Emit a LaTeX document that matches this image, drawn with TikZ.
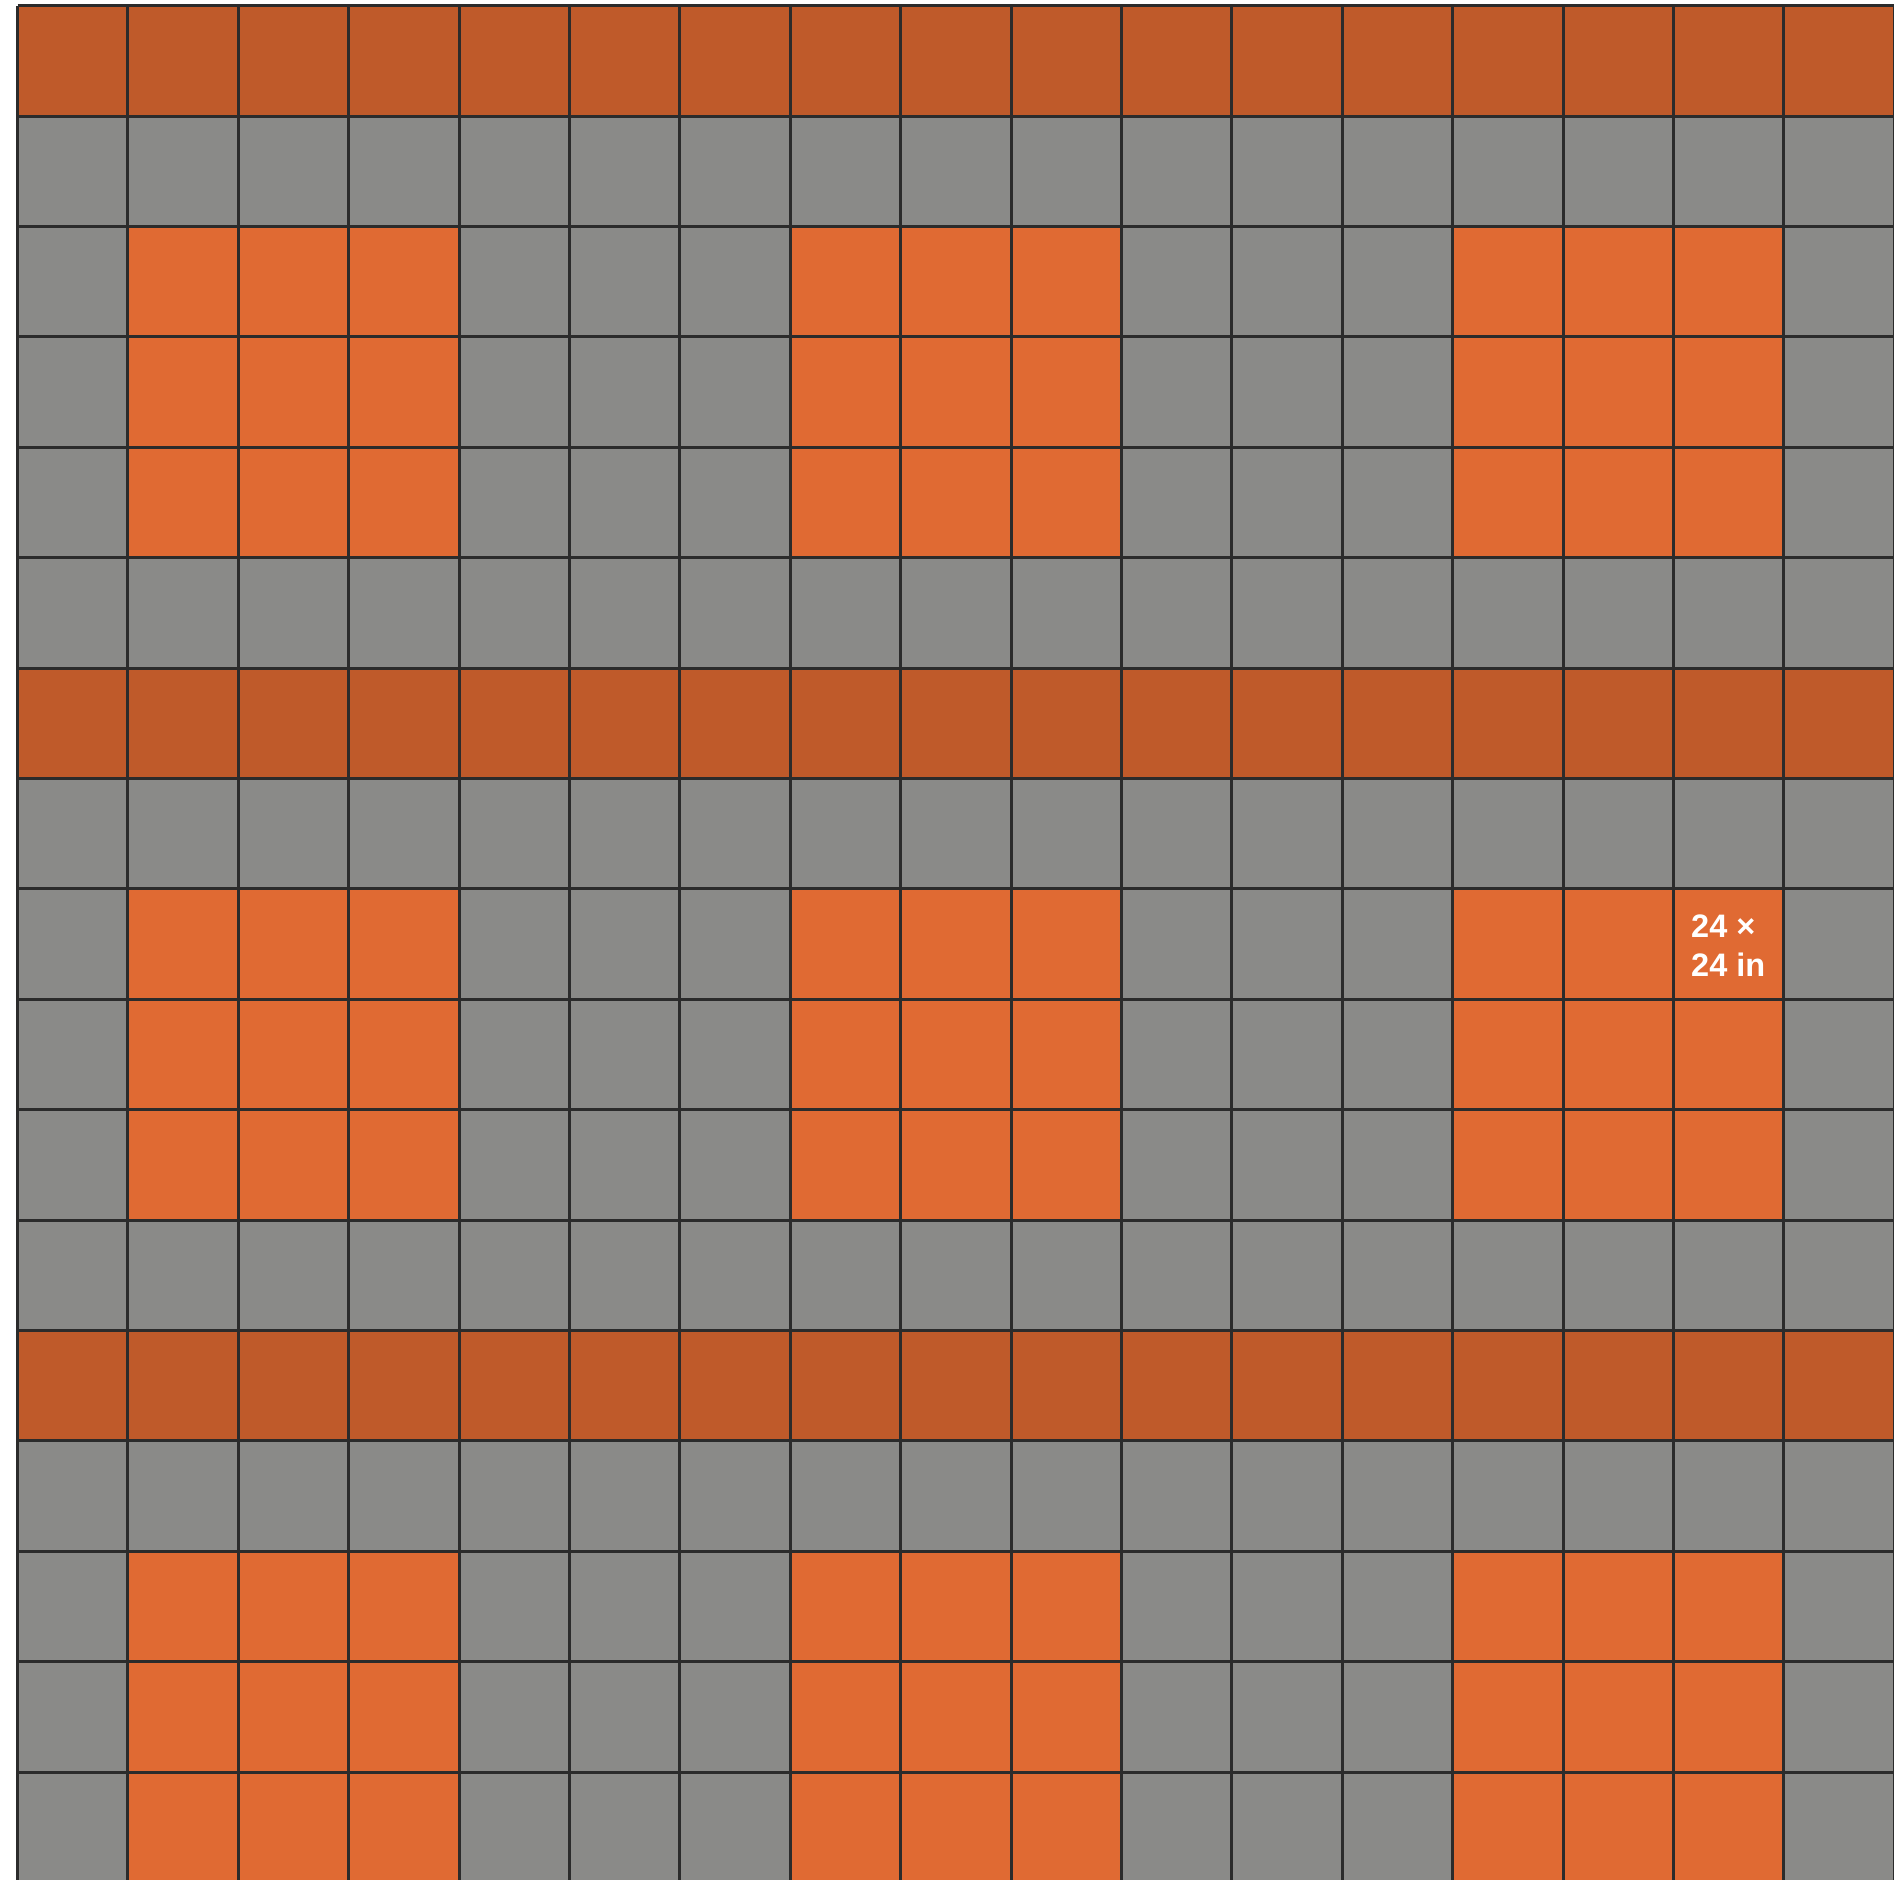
\documentclass[tikz,border=0pt]{standalone}
\usepackage{fontspec}
\setmainfont{Liberation Sans}
\definecolor{darkor}{HTML}{BF5A2A}
\definecolor{bor}{HTML}{E06A33}
\definecolor{gr}{HTML}{8A8A88}
\definecolor{ln}{HTML}{2B2B2B}
\tikzset{gridline/.style={draw=ln,line width=3pt},
  lbl/.style={inner sep=0pt,text=white,font=\fontsize{32.5}{39.4}\selectfont\bfseries,align=left}}
\begin{document}
\begin{tikzpicture}[x=1pt,y=-1pt]
\useasboundingbox (0,0) rectangle (1894,1879);
\fill[white] (0,0) rectangle (1894,1879);
\begin{scope}
\clip (0,0) rectangle (1894,1879);
\foreach \r in {0,...,16}{
  \foreach \c in {0,...,16}{
    \pgfmathtruncatemacro\rm{mod(\r,6)}
    \pgfmathtruncatemacro\cm{mod(\c,6)}
    \pgfmathtruncatemacro\isb{and(and(\rm>1,\rm<5),and(\cm>0,\cm<4))}
    \ifnum\rm=0 \def\cc{darkor}\else\ifnum\isb=1 \def\cc{bor}\else\def\cc{gr}\fi\fi
    \fill[\cc] (17.5+\c*110.4, 5.6+\r*110.4) rectangle ++(110.4,110.4);
  }
}
\foreach \i in {0,...,17}{
  \draw[gridline] (17.5+\i*110.4, 5.6) -- (17.5+\i*110.4, 1900);
  \draw[gridline] (17.5, 5.6+\i*110.4) -- (1900, 5.6+\i*110.4);
}
\end{scope}
\node[lbl,anchor=base west] (label) at (1691,976.7) {24 ×\\24 in};
\end{tikzpicture}
\end{document}
